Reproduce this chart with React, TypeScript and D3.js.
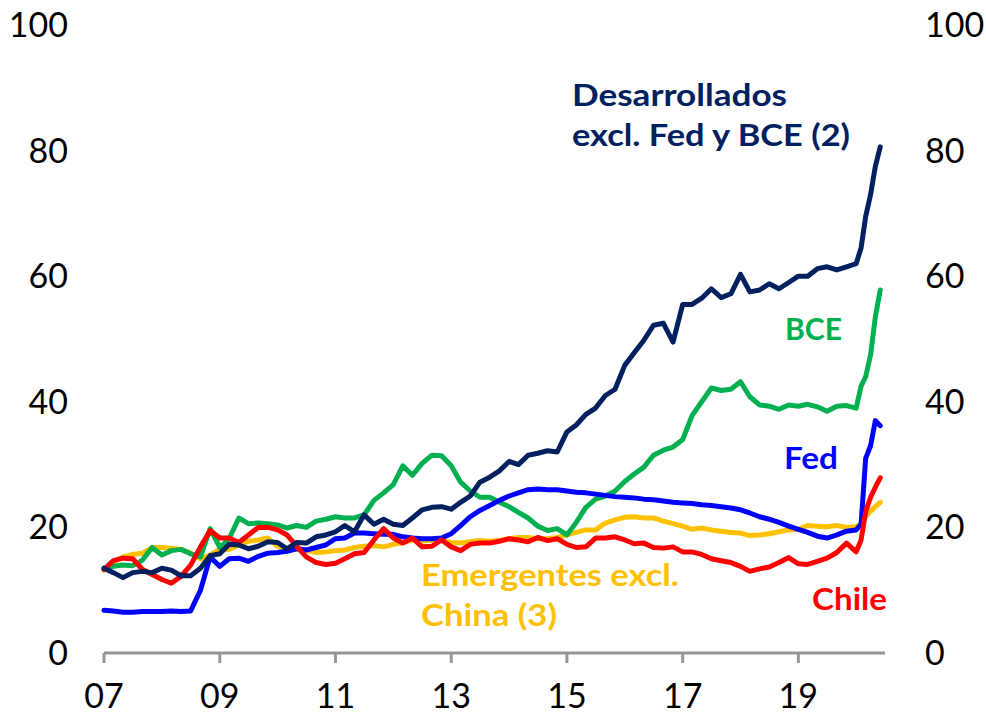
import React from "react";
import * as d3 from "d3";

const width = 986;
const height = 714;
const left = 104;
const right = 885;
const top = 25;
const bottom = 653;
const font = "Lato, 'Open Sans', sans-serif";

// bimonthly 2007-2019, monthly Jan-Jun 2020
const periods: Date[] = [
  ...d3.timeMonth.every(2)!.range(new Date(2007, 0, 1), new Date(2020, 0, 1)),
  ...d3.timeMonth.range(new Date(2020, 0, 1), new Date(2020, 6, 1)),
];

const yearTicks = [2007, 2009, 2011, 2013, 2015, 2017, 2019];
const yTicks = [0, 20, 40, 60, 80, 100];

const desarrollados = [
  13.5, 12.8, 12.0, 12.8, 13.0, 12.8,
  13.5, 13.2, 12.3, 12.3, 13.5, 15.5,
  15.8, 17.3, 17.2, 16.6, 17.0, 17.7,
  17.6, 16.6, 17.6, 17.5, 18.5, 18.8,
  19.3, 20.3, 19.3, 22.0, 20.5, 21.3,
  20.5, 20.3, 21.5, 22.8, 23.2, 23.3,
  22.9, 24.0, 25.0, 27.2, 28.0, 29.0,
  30.5, 30.0, 31.5, 31.8, 32.2, 32.0,
  35.2, 36.3, 38.0, 39.0, 41.0, 42.0,
  45.8, 47.8, 49.8, 52.2, 52.5, 49.5,
  55.5, 55.5, 56.5, 58.0, 56.6, 57.2,
  60.3, 57.5, 57.8, 58.8, 58.0, 59.0,
  60.0, 60.0, 61.2, 61.5, 61.0, 61.5,
  62.0, 64.5, 69.5, 73.0, 77.5, 80.6,
];

const bce = [
  13.5, 13.8, 14.0, 13.9, 14.8, 16.8,
  15.6, 16.3, 16.5, 15.8, 15.3, 19.8,
  16.8, 18.2, 21.5, 20.6, 20.7, 20.6,
  20.4, 19.9, 20.3, 20.0, 21.0, 21.3,
  21.7, 21.5, 21.5, 22.0, 24.3, 25.5,
  26.8, 29.8, 28.3, 30.2, 31.5, 31.4,
  29.8, 27.2, 25.8, 24.8, 24.8, 24.0,
  23.3, 22.4, 21.5, 20.2, 19.5, 19.8,
  18.8, 20.8, 23.2, 24.5, 25.0, 25.8,
  27.3, 28.5, 29.6, 31.5, 32.3, 32.8,
  34.0, 37.8, 40.0, 42.2, 41.8, 42.0,
  43.2, 40.8, 39.5, 39.3, 38.8, 39.5,
  39.3, 39.6, 39.2, 38.5, 39.3, 39.4,
  39.0, 42.5, 44.0, 47.5, 53.5, 57.8,
];

const fed = [
  6.8, 6.7, 6.5, 6.5, 6.6, 6.6,
  6.6, 6.7, 6.6, 6.7, 10.0, 15.3,
  13.8, 15.0, 15.1, 14.6, 15.4, 15.9,
  16.0, 16.2, 16.6, 16.4, 16.8, 17.2,
  18.2, 18.3, 19.1, 19.1, 19.0, 18.9,
  18.9, 18.5, 18.3, 18.2, 18.2, 18.3,
  19.0, 20.3, 21.7, 22.7, 23.5, 24.3,
  25.0, 25.5, 26.0, 26.1, 26.0, 26.0,
  25.8, 25.6, 25.5, 25.3, 25.1, 24.9,
  24.8, 24.7, 24.5, 24.4, 24.2, 24.0,
  23.9, 23.8, 23.6, 23.5, 23.3, 23.1,
  22.8, 22.3, 21.7, 21.3, 20.8, 20.2,
  19.7, 19.2, 18.6, 18.3, 18.8, 19.4,
  19.6, 20.5, 31.0, 33.0, 37.0, 36.2,
];

const chile = [
  13.3, 14.7, 15.1, 15.0, 13.3, 12.5,
  11.7, 11.1, 12.2, 14.0, 16.9, 19.5,
  18.3, 18.3, 17.6, 18.8, 20.0, 20.0,
  19.6, 18.8, 17.0, 15.3, 14.4, 14.1,
  14.3, 15.0, 15.8, 16.0, 18.0, 19.8,
  18.3, 17.5, 18.3, 16.9, 17.0, 18.0,
  16.9, 16.3, 17.3, 17.5, 17.5, 17.8,
  18.2, 18.0, 17.7, 18.4, 17.9, 18.2,
  17.3, 16.8, 16.9, 18.3, 18.3, 18.5,
  18.0, 17.4, 17.5, 16.8, 16.7, 16.9,
  16.1, 16.1, 15.7, 15.0, 14.7, 14.4,
  13.8, 13.0, 13.4, 13.7, 14.4, 15.2,
  14.2, 14.1, 14.6, 15.1, 16.0, 17.5,
  16.1, 18.0, 22.5, 24.8, 26.4, 27.9,
];

const emergentes = [
  13.2, 14.5, 15.3, 15.7, 15.9, 16.8,
  16.8, 16.7, 16.5, 15.9, 15.0, 15.6,
  16.5, 16.5, 17.2, 17.8, 18.0, 18.3,
  17.0, 16.4, 16.6, 16.4, 16.0, 16.1,
  16.3, 16.4, 16.8, 17.0, 17.1, 16.9,
  17.3, 17.6, 18.0, 17.8, 18.0, 17.9,
  17.6, 17.5, 17.7, 17.9, 17.8, 17.9,
  18.2, 18.4, 18.4, 18.2, 18.2, 18.4,
  18.8, 19.2, 19.6, 19.6, 20.7, 21.2,
  21.6, 21.7, 21.5, 21.5, 21.0, 20.6,
  20.2, 19.7, 19.9, 19.6, 19.4, 19.2,
  19.1, 18.7, 18.8, 19.0, 19.3, 19.6,
  19.7, 20.3, 20.2, 20.1, 20.3, 20.0,
  20.1, 20.6, 21.7, 22.6, 23.3, 24.0,
];

// drawing order: first is at the bottom
const series = [
  { name: "emergentes", values: emergentes, color: "#FFC000" },
  { name: "bce", values: bce, color: "#00B050" },
  { name: "fed", values: fed, color: "#0000FF" },
  { name: "chile", values: chile, color: "#FF0000" },
  { name: "desarrollados", values: desarrollados, color: "#002060" },
];

// text, with the width each line takes in the original
const labels = [
  { lines: [["Desarrollados", 215], ["excl. Fed y BCE (2)", 278]], x: 572, y: 106, color: "#002060" },
  { lines: [["BCE", 57]], x: 785, y: 340, color: "#00B050" },
  { lines: [["Fed", 54]], x: 784, y: 469, color: "#0000FF" },
  { lines: [["Chile", 75]], x: 812, y: 610, color: "#FF0000" },
  { lines: [["Emergentes excl.", 258], ["China (3)", 136]], x: 421, y: 586, color: "#FFC000" },
];

const App = () => {
  const xScale = d3
    .scaleTime()
    .domain([new Date(2007, 0, 1), new Date(2020, 6, 1)])
    .range([left, right]);
  const yScale = d3.scaleLinear().domain([0, 100]).range([bottom, top]);

  const line = d3
    .line<number>()
    .x((d, i) => xScale(periods[i]))
    .y(d => yScale(d));

  return (
    <svg
      width={width}
      height={height}
      style={{ position: "absolute", left: 0, top: 0, background: "#fff" }}
      fontFamily={font}
    >
      {yTicks.map(t => (
        <g key={t} fontSize={34} fill="#000">
          <text x={68} y={yScale(t) + 12} textAnchor="end">
            {t}
          </text>
          <text x={925} y={yScale(t) + 12} textAnchor="start">
            {t}
          </text>
        </g>
      ))}

      {series.map(s => (
        <path
          key={s.name}
          d={line(s.values) || ""}
          fill="none"
          stroke={s.color}
          strokeWidth={5}
          strokeLinejoin="round"
          strokeLinecap="round"
        />
      ))}

      <line x1={left} x2={right} y1={bottom} y2={bottom} stroke="#969696" strokeWidth={3} />
      {yearTicks.map(yr => {
        const x = xScale(new Date(yr, 0, 1));
        return (
          <g key={yr}>
            <line x1={x} x2={x} y1={bottom} y2={bottom + 10} stroke="#969696" strokeWidth={3} />
            <text x={x} y={708} textAnchor="middle" fontSize={34} fill="#000">
              {String(yr).slice(2)}
            </text>
          </g>
        );
      })}

      {labels.map((l, idx) => (
        <g key={idx} fill={l.color} fontSize={31} fontWeight="bold">
          {l.lines.map(([ln, w], i) => (
            <text
              key={i}
              x={l.x}
              y={l.y + i * 40}
              textLength={w as number}
              lengthAdjust="spacingAndGlyphs"
            >
              {ln}
            </text>
          ))}
        </g>
      ))}
    </svg>
  );
};

export default App;
